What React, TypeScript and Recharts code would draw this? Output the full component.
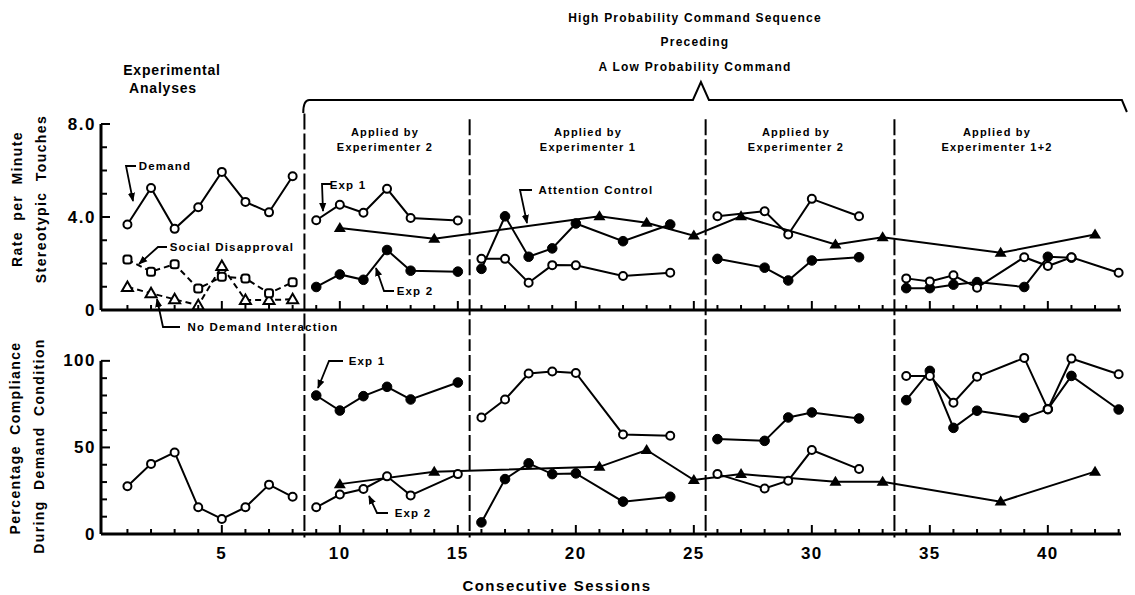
import React from "react";
import { LineChart, Line, XAxis, YAxis, ReferenceLine } from "recharts";

/* ── Data (session, value) ─────────────────────────────── */

// Rate per minute of stereotypic touches (top panel)
const demandRate = [[1, 3.68], [2, 5.25], [3, 3.49], [4, 4.42], [5, 5.94], [6, 4.65], [7, 4.2], [8, 5.75]];
const socialDisapprovalRate = [[1, 2.17], [2, 1.65], [3, 1.97], [4, 0.92], [5, 1.43], [6, 1.36], [7, 0.72], [8, 1.19]];
const noDemandRate = [[1, 0.99], [2, 0.72], [3, 0.46], [4, 0.2], [5, 1.89], [6, 0.43], [7, 0.43], [8, 0.46]];

const exp1RateP1 = [[9, 3.86], [10, 4.53], [11, 4.18], [12, 5.21], [13, 3.96], [15, 3.85]];
const exp1RateP2 = [[16, 2.2], [17, 2.2], [18, 1.17], [19, 1.93], [20, 1.92], [22, 1.46], [24, 1.6]];
const exp1RateP3 = [[26, 4.03], [28, 4.25], [29, 3.25], [30, 4.78], [32, 4.03]];
const exp1RateP4 = [[34, 1.36], [35, 1.23], [36, 1.49], [37, 0.96], [39, 2.27], [40, 1.89], [41, 2.27], [43, 1.6]];

const exp2RateP1 = [[9, 0.99], [10, 1.53], [11, 1.3], [12, 2.58], [13, 1.69], [15, 1.65]];
const exp2RateP2 = [[16, 1.77], [17, 4.03], [18, 2.29], [19, 2.65], [20, 3.72], [22, 2.96], [24, 3.68]];
const exp2RateP3 = [[26, 2.2], [28, 1.82], [29, 1.27], [30, 2.13], [32, 2.27]];
const exp2RateP4 = [[34, 0.94], [35, 0.94], [36, 1.09], [37, 1.2], [39, 0.99], [40, 2.29], [41, 2.25]];

const attentionRate = [[10, 3.53], [14, 3.06], [21, 4.03], [23, 3.75], [25, 3.2], [27, 4.03], [31, 2.82], [33, 3.13], [38, 2.46], [42, 3.25]];

// Percentage compliance during demand condition (bottom panel)
const baselineComp = [[1, 27.6], [2, 40.5], [3, 47.1], [4, 15.4], [5, 8.7], [6, 15.4], [7, 28.5], [8, 21.5]];

const filledCompP1 = [[9, 80], [10, 71.3], [11, 79.6], [12, 85], [13, 77.7], [15, 87.5]];
const filledCompP2 = [[16, 6.7], [17, 31.7], [18, 40.8], [19, 34.6], [20, 35], [22, 18.7], [24, 21.5]];
const filledCompP3 = [[26, 54.8], [28, 53.8], [29, 67.3], [30, 70.2], [32, 66.7]];
const filledCompP4 = [[34, 77.3], [35, 94.2], [36, 61.3], [37, 71.2], [39, 67.1], [40, 72.1], [41, 91.3], [43, 71.9]];

const openCompP1 = [[9, 15.4], [10, 22.8], [11, 26], [12, 33.3], [13, 22.3], [15, 34.6]];
const openCompP2 = [[16, 67.3], [17, 77.7], [18, 92.7], [19, 93.8], [20, 93], [22, 57.5], [24, 56.7]];
const openCompP3 = [[26, 34.6], [28, 26.3], [29, 30.8], [30, 48.5], [32, 37.5]];
const openCompP4 = [[34, 91.3], [35, 91.3], [36, 75.8], [37, 90.8], [39, 101.7], [40, 72.1], [41, 101.3], [43, 92.3]];

const attentionComp = [[10, 28.8], [14, 36], [21, 38.8], [23, 48.5], [25, 31.2], [27, 34.6], [31, 30.2], [33, 30.2], [38, 18.7], [42, 36]];

// Axes
const sessionTicks = [1, 2, 3, 4, 5, 6, 7, 8, 9, 10, 11, 12, 13, 14, 15, 16, 17, 18, 19, 20, 21, 22, 23, 24, 25, 26, 27, 28, 29, 30, 31, 32, 33, 34, 35, 36, 37, 38, 39, 40, 41, 42, 43];
const rateTicks = [0, 1, 2, 3, 4, 5, 6, 7, 8];
const rateTickLabels = ["0", "", "", "", "4.0", "", "", "", "8.0"];
const compTicks = [0, 10, 20, 30, 40, 50, 60, 70, 80, 90, 100];
const compTickLabels = ["0", "", "", "", "", "50", "", "", "", "", "100"];
const phaseBounds = [8.5, 15.5, 25.5, 33.5];

/* ── Layout ────────────────────────────────────────────── */

const W = 1135;
const XMIN = -0.12;
const XMAX = 43.1;
const PLOT_LEFT = 101;
const PLOT_W = 1020;
const PX = PLOT_W / (XMAX - XMIN);
const sx = (s: number) => PLOT_LEFT + (s - XMIN) * PX;

const TOP_H = 345;
const BOT_H = 250;

const FONT = "'Liberation Sans', Arial, sans-serif";
const tickFont = { fontFamily: FONT, fontSize: 17, fontWeight: 700, letterSpacing: 1.5, fill: "#000" };
const labelFont = { fontFamily: FONT, fontSize: 11.5, fontWeight: 700, letterSpacing: 1.2, fill: "#000" };
const titleFont = { fontFamily: FONT, fontSize: 14, fontWeight: 700, letterSpacing: 1.4, fill: "#000" };

const pts = (rows: number[][]) => rows.map(([s, v]) => ({ s, v }));

/* ── Markers ───────────────────────────────────────────── */

const openCircle = (p: any) => (
  <circle key={`oc${p.index}`} cx={p.cx} cy={p.cy} r={4} fill="#fff" stroke="#000" strokeWidth={2} />
);
const filledCircle = (p: any) => (
  <circle key={`fc${p.index}`} cx={p.cx} cy={p.cy} r={4.8} fill="#000" stroke="#000" />
);
const filledTriangle = (p: any) => (
  <polygon key={`ft${p.index}`} points={`${p.cx},${p.cy - 6} ${p.cx - 6},${p.cy + 4} ${p.cx + 6},${p.cy + 4}`} fill="#000" />
);
const openTriangle = (p: any) => (
  <polygon key={`ot${p.index}`} points={`${p.cx},${p.cy - 5.5} ${p.cx - 5.5},${p.cy + 4} ${p.cx + 5.5},${p.cy + 4}`} fill="#fff" stroke="#000" strokeWidth={2} />
);
const openSquare = (p: any) => (
  <rect key={`os${p.index}`} x={p.cx - 4} y={p.cy - 4} width={8} height={8} rx={2.5} fill="#fff" stroke="#000" strokeWidth={2} />
);

const series = (rows: number[][], dot: any, id: string, dashed = false) => (
  <Line
    key={id}
    data={pts(rows)}
    dataKey="v"
    type="linear"
    stroke="#000"
    strokeWidth={2}
    strokeDasharray={dashed ? "6 4" : undefined}
    dot={dot}
    activeDot={false}
    isAnimationActive={false}
  />
);

/* ── Ticks ─────────────────────────────────────────────── */

const sessionTick = (withLabels: boolean) => (p: any) => {
  const s = p.payload.value as number;
  const major = s % 5 === 0;
  return (
    <g key={`st${s}`}>
      <line x1={p.x} x2={p.x} y1={p.y} y2={p.y - (major ? 9 : 5)} stroke="#000" strokeWidth={2} />
      {withLabels && major && (
        <text x={p.x} y={p.y + 19} textAnchor="middle" dominantBaseline="central" style={tickFont}>
          {s}
        </text>
      )}
    </g>
  );
};

const valueTick = (ticks: number[], labels: string[]) => (p: any) => {
  const label = labels[ticks.indexOf(p.payload.value)];
  return (
    <g key={`vt${p.payload.value}`}>
      <line x1={p.x} x2={p.x + (label ? 9 : 6)} y1={p.y} y2={p.y} stroke="#000" strokeWidth={2} />
      {label && (
        <text x={p.x - 5} y={p.y} textAnchor="end" dominantBaseline="central" style={tickFont}>
          {label}
        </text>
      )}
    </g>
  );
};

const phaseLine = (b: number, y1: number, y2: number) => (
  <ReferenceLine
    key={`ph${b}`}
    segment={[{ x: b, y: y1 }, { x: b, y: y2 }]}
    ifOverflow="visible"
    stroke="#000"
    strokeWidth={2}
    strokeDasharray="16 4"
  />
);

/* ── Annotations ───────────────────────────────────────── */

const Arrow = ({ points }: { points: string }) => (
  <polyline points={points} fill="none" stroke="#000" strokeWidth={1.8} markerEnd="url(#ah)" />
);

const Label = ({ x, y, children, style = labelFont }: any) => (
  <text x={x} y={y} textAnchor="middle" dominantBaseline="central" style={style}>
    {children}
  </text>
);

const VLabel = ({ x, y, children }: any) => (
  <text x={x} y={y} textAnchor="middle" dominantBaseline="central" transform={`rotate(-90 ${x} ${y})`} style={{ ...titleFont, wordSpacing: 5 }}>
    {children}
  </text>
);

export default function App() {
  const bracketY = 100;
  const bl = sx(8.45);
  const br = sx(43.35);
  const peak = sx(25.3);

  return (
    <div style={{ position: "absolute", left: 0, top: 0, width: W, height: 595, background: "#fff" }}>
      {/* Top panel: rate per minute */}
      <div style={{ position: "absolute", left: 0, top: 0 }}>
        <LineChart width={W} height={TOP_H} margin={{ top: 124, right: W - PLOT_LEFT - PLOT_W, bottom: 15, left: PLOT_LEFT - 40 }}>
          <XAxis
            type="number"
            dataKey="s"
            domain={[XMIN, XMAX]}
            ticks={sessionTicks}
            interval={0}
            height={20}
            tickSize={0}
            tickMargin={0}
            tickLine={false}
            axisLine={{ stroke: "#000", strokeWidth: 3 }}
            tick={sessionTick(false)}
          />
          <YAxis
            type="number"
            domain={[0, 8]}
            ticks={rateTicks}
            interval={0}
            width={40}
            tickSize={0}
            tickMargin={0}
            tickLine={false}
            axisLine={{ stroke: "#000", strokeWidth: 3 }}
            tick={valueTick(rateTicks, rateTickLabels)}
          />
          {phaseBounds.map((b) => phaseLine(b, b === 8.5 ? 8.45 : 8.2, -3))}
          {series(attentionRate, filledTriangle, "attR")}
          {series(noDemandRate, openTriangle, "ndR", true)}
          {series(socialDisapprovalRate, openSquare, "sdR", true)}
          {series(demandRate, openCircle, "dR")}
          {series(exp2RateP1, filledCircle, "e2r1")}
          {series(exp2RateP2, filledCircle, "e2r2")}
          {series(exp2RateP3, filledCircle, "e2r3")}
          {series(exp2RateP4, filledCircle, "e2r4")}
          {series(exp1RateP1, openCircle, "e1r1")}
          {series(exp1RateP2, openCircle, "e1r2")}
          {series(exp1RateP3, openCircle, "e1r3")}
          {series(exp1RateP4, openCircle, "e1r4")}
        </LineChart>
      </div>

      {/* Bottom panel: percentage compliance */}
      <div style={{ position: "absolute", left: 0, top: TOP_H }}>
        <LineChart width={W} height={BOT_H} margin={{ top: 2, right: W - PLOT_LEFT - PLOT_W, bottom: 21, left: PLOT_LEFT - 40 }}>
          <XAxis
            type="number"
            dataKey="s"
            domain={[XMIN, XMAX]}
            ticks={sessionTicks}
            interval={0}
            height={40}
            tickSize={0}
            tickMargin={0}
            tickLine={false}
            axisLine={{ stroke: "#000", strokeWidth: 3 }}
            tick={sessionTick(true)}
          />
          <YAxis
            type="number"
            domain={[0, 108]}
            ticks={compTicks}
            interval={0}
            width={40}
            tickSize={0}
            tickMargin={0}
            tickLine={false}
            axisLine={false}
            tick={valueTick(compTicks, compTickLabels)}
          />
          <ReferenceLine segment={[{ x: XMIN, y: 0 }, { x: XMIN, y: 100 }]} ifOverflow="visible" stroke="#000" strokeWidth={3} />
          {phaseBounds.map((b) => phaseLine(b, 115, -2))}
          {series(attentionComp, filledTriangle, "attC")}
          {series(baselineComp, openCircle, "bC")}
          {series(filledCompP1, filledCircle, "fc1")}
          {series(filledCompP2, filledCircle, "fc2")}
          {series(filledCompP3, filledCircle, "fc3")}
          {series(filledCompP4, filledCircle, "fc4")}
          {series(openCompP1, openCircle, "oc1")}
          {series(openCompP2, openCircle, "oc2")}
          {series(openCompP3, openCircle, "oc3")}
          {series(openCompP4, openCircle, "oc4")}
        </LineChart>
      </div>

      {/* Text and arrows */}
      <svg width={W} height={595} style={{ position: "absolute", left: 0, top: 0, pointerEvents: "none" }}>
        <defs>
          <marker id="ah" viewBox="0 0 10 10" refX="9" refY="5" markerWidth="5" markerHeight="5" orient="auto">
            <path d="M0,1 L10,5 L0,9 z" fill="#000" />
          </marker>
        </defs>

        <Label x={695} y={18} style={{ ...labelFont, fontSize: 12 }}>High Probability Command Sequence</Label>
        <Label x={695} y={42} style={{ ...labelFont, fontSize: 12 }}>Preceding</Label>
        <Label x={695} y={67} style={{ ...labelFont, fontSize: 12 }}>A Low Probability Command</Label>
        <Label x={172} y={70} style={{ ...titleFont, fontSize: 14, letterSpacing: 0.8 }}>Experimental</Label>
        <Label x={163} y={88} style={{ ...titleFont, fontSize: 14, letterSpacing: 0.8 }}>Analyses</Label>

        <path
          d={`M${bl},${bracketY + 13} Q${bl},${bracketY} ${bl + 6},${bracketY} L${peak - 8},${bracketY} L${peak},${bracketY - 18} L${peak + 8},${bracketY} L${br - 5},${bracketY} L${br},${bracketY + 12}`}
          fill="none"
          stroke="#000"
          strokeWidth={2}
        />

        <Label x={385} y={132} style={{ ...labelFont, fontSize: 11 }}>Applied by</Label>
        <Label x={385} y={147} style={{ ...labelFont, fontSize: 11 }}>Experimenter 2</Label>
        <Label x={588} y={132} style={{ ...labelFont, fontSize: 11 }}>Applied by</Label>
        <Label x={588} y={147} style={{ ...labelFont, fontSize: 11 }}>Experimenter 1</Label>
        <Label x={796} y={132} style={{ ...labelFont, fontSize: 11 }}>Applied by</Label>
        <Label x={796} y={147} style={{ ...labelFont, fontSize: 11 }}>Experimenter 2</Label>
        <Label x={997} y={132} style={{ ...labelFont, fontSize: 11 }}>Applied by</Label>
        <Label x={997} y={147} style={{ ...labelFont, fontSize: 11 }}>Experimenter 1+2</Label>

        <Label x={165} y={166}>Demand</Label>
        <Arrow points="136,166 126,166 133,201" />
        <Label x={232} y={247}>Social Disapproval</Label>
        <Arrow points="167,247 158,247 139,264" />
        <Label x={263} y={327}>No Demand Interaction</Label>
        <Arrow points="180,327 163,327 157,299" />
        <Label x={348} y={185}>Exp 1</Label>
        <Arrow points="331,184 322,184 323,211" />
        <Label x={415} y={291}>Exp 2</Label>
        <Arrow points="394,291 384,291 376,268" />
        <Label x={596} y={190}>Attention Control</Label>
        <Arrow points="532,190 520,190 527,223" />

        <Label x={367} y={361}>Exp 1</Label>
        <Arrow points="343,361 329,361 318,388" />
        <Label x={413} y={513}>Exp 2</Label>
        <Arrow points="388,513 377,513 369,496" />

        <VLabel x={17} y={199}>Rate per Minute</VLabel>
        <VLabel x={41} y={199}>Stereotypic Touches</VLabel>
        <VLabel x={15} y={438}>Percentage Compliance</VLabel>
        <VLabel x={39} y={446}>During Demand Condition</VLabel>

        <Label x={557} y={585} style={{ ...titleFont, fontSize: 15, letterSpacing: 1.5 }}>Consecutive Sessions</Label>
      </svg>
    </div>
  );
}
